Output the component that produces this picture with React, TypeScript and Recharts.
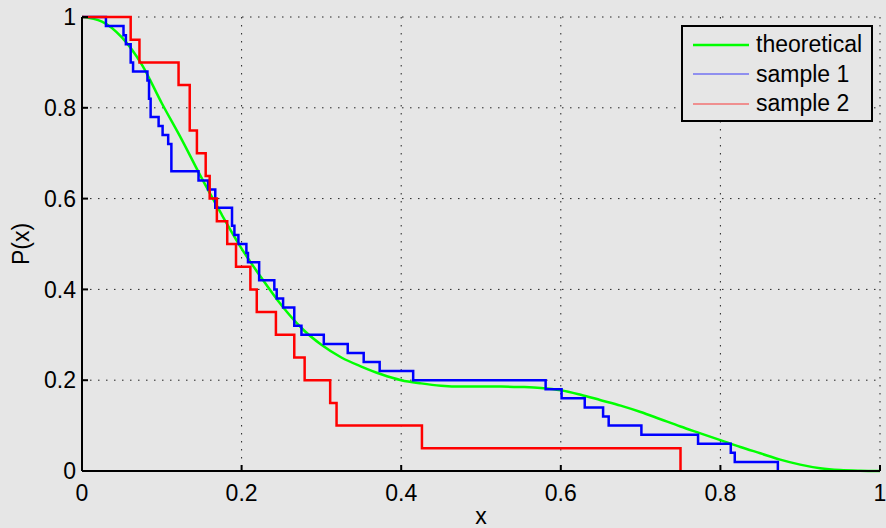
import React from 'react';
import { LineChart, Line, XAxis, YAxis, CartesianGrid, Legend } from 'recharts';

// theoretical curve
const theoreticalX = [0, 0.025, 0.05, 0.075, 0.1, 0.125, 0.15, 0.175, 0.2, 0.225, 0.25, 0.275, 0.3, 0.325, 0.35, 0.375, 0.4, 0.425, 0.45, 0.475, 0.5, 0.525, 0.55, 0.575, 0.6, 0.625, 0.65, 0.675, 0.7, 0.725, 0.75, 0.775, 0.8, 0.825, 0.85, 0.875, 0.9, 0.925, 0.95, 0.975, 1];
const theoreticalP = [1, 0.99, 0.955, 0.895, 0.81, 0.73, 0.645, 0.565, 0.49, 0.425, 0.365, 0.315, 0.278, 0.25, 0.23, 0.213, 0.2, 0.193, 0.188, 0.186, 0.186, 0.186, 0.185, 0.183, 0.178, 0.168, 0.156, 0.144, 0.13, 0.114, 0.098, 0.083, 0.068, 0.053, 0.039, 0.025, 0.014, 0.006, 0.002, 0.0005, 0];

// sample 1 (50 points, steps of 0.02)
const sample1X = [0, 0.030, 0.052, 0.055, 0.061, 0.064, 0.082, 0.084, 0.086, 0.096, 0.101, 0.108, 0.112, 0.146, 0.158, 0.167, 0.188, 0.191, 0.196, 0.206, 0.208, 0.222, 0.241, 0.244, 0.252, 0.266, 0.275, 0.303, 0.333, 0.353, 0.373, 0.415, 0.581, 0.601, 0.630, 0.653, 0.660, 0.701, 0.772, 0.813, 0.818, 0.872];
const sample1P = [1, 0.98, 0.96, 0.94, 0.90, 0.88, 0.86, 0.82, 0.78, 0.76, 0.74, 0.72, 0.66, 0.64, 0.62, 0.58, 0.54, 0.52, 0.50, 0.48, 0.46, 0.42, 0.40, 0.38, 0.36, 0.32, 0.30, 0.28, 0.26, 0.24, 0.22, 0.20, 0.18, 0.16, 0.14, 0.12, 0.10, 0.08, 0.06, 0.04, 0.02, 0];

// sample 2 (20 points, steps of 0.05)
const sample2X = [0, 0.061, 0.072, 0.121, 0.135, 0.144, 0.155, 0.160, 0.169, 0.182, 0.193, 0.211, 0.219, 0.243, 0.266, 0.279, 0.311, 0.319, 0.426, 0.750];
const sample2P = [1, 0.95, 0.90, 0.85, 0.75, 0.70, 0.65, 0.60, 0.55, 0.50, 0.45, 0.40, 0.35, 0.30, 0.25, 0.20, 0.15, 0.10, 0.05, 0];

const seriesNames = ['theoretical', 'sample 1', 'sample 2'];
const axisTicks = [0, 0.2, 0.4, 0.6, 0.8, 1];

const toPoints = (xs: number[], ps: number[]) => xs.map((x, i) => ({ x, p: ps[i] }));

const theoreticalData = toPoints(theoreticalX, theoreticalP);
const sample1Data = toPoints(sample1X, sample1P);
const sample2Data = toPoints(sample2X, sample2P);

const BG = '#e6e6e6';
const FONT = '"Liberation Sans", Arial, Helvetica, sans-serif';

const fmtTick = (v: number) => (v === 0 || v === 1 ? String(v) : v.toFixed(1));

const renderLegend = (props: any) => {
  // keep the plotting order, recharts sorts by name otherwise
  const payload = [...(props.payload || [])].sort(
    (a: any, b: any) => seriesNames.indexOf(a.value) - seriesNames.indexOf(b.value)
  );
  return (
    <div
      style={{
        width: 192,
        height: 97,
        border: '2px solid #000',
        boxSizing: 'border-box',
        background: BG,
        paddingTop: 3,
        fontFamily: FONT,
        fontSize: 23,
      }}
    >
      {payload.map((entry: any) => {
        const main = entry.value === 'theoretical';
        return (
          <div key={entry.value} style={{ display: 'flex', alignItems: 'center', height: 29.5 }}>
            <svg width={56} height={6} style={{ marginLeft: 10, marginRight: 7 }}>
              <line
                x1={0}
                y1={3}
                x2={56}
                y2={3}
                stroke={entry.color}
                strokeWidth={main ? 2.5 : 1.2}
                strokeOpacity={main ? 1 : 0.75}
              />
            </svg>
            <span style={{ color: '#000', lineHeight: '29.5px' }}>{entry.value}</span>
          </div>
        );
      })}
    </div>
  );
};

export default function App() {
  return (
    <div style={{ position: 'absolute', left: 0, top: 0, width: 886, height: 528, background: BG, fontFamily: FONT }}>
      <LineChart width={886} height={528} margin={{ top: 17, right: 6, left: 0, bottom: 0 }}>
        <CartesianGrid stroke="#222" strokeDasharray="1.5 6.5" />
        <XAxis
          dataKey="x"
          type="number"
          domain={[0, 1]}
          ticks={axisTicks}
          allowDuplicatedCategory={false}
          height={57}
          tickFormatter={fmtTick}
          tick={{ fill: '#000', fontSize: 23 }}
          tickSize={-6}
          tickMargin={20}
          axisLine={{ stroke: '#000', strokeWidth: 2 }}
          tickLine={{ stroke: '#000', strokeWidth: 2 }}
          label={{ value: 'x', position: 'insideBottom', offset: 4, fill: '#000', fontSize: 23 }}
        />
        <XAxis
          xAxisId="top"
          orientation="top"
          dataKey="x"
          type="number"
          domain={[0, 1]}
          ticks={axisTicks}
          height={0}
          tick={false}
          tickSize={-6}
          axisLine={{ stroke: '#000', strokeWidth: 2 }}
          tickLine={{ stroke: '#000', strokeWidth: 2 }}
        />
        <YAxis
          type="number"
          domain={[0, 1]}
          ticks={axisTicks}
          width={82}
          tickFormatter={fmtTick}
          tick={{ fill: '#000', fontSize: 23 }}
          tickSize={-6}
          tickMargin={12}
          axisLine={{ stroke: '#000', strokeWidth: 2 }}
          tickLine={{ stroke: '#000', strokeWidth: 2 }}
          label={{ value: 'P(x)', angle: -90, position: 'insideLeft', offset: 21, fill: '#000', fontSize: 23, style: { textAnchor: 'middle' } }}
        />
        <YAxis
          yAxisId="right"
          orientation="right"
          type="number"
          domain={[0, 1]}
          ticks={axisTicks}
          width={0}
          tick={false}
          tickSize={-6}
          axisLine={{ stroke: '#000', strokeWidth: 2 }}
          tickLine={{ stroke: '#000', strokeWidth: 2 }}
        />
        <Legend
          layout="vertical"
          align="center"
          verticalAlign="middle"
          content={renderLegend}
          wrapperStyle={{ left: 681, top: 25, width: 192, height: 97 }}
        />
        <Line
          data={theoreticalData}
          dataKey="p"
          name="theoretical"
          type="monotone"
          stroke="#00ff00"
          strokeWidth={2.5}
          dot={false}
          isAnimationActive={false}
        />
        <Line
          data={sample1Data}
          dataKey="p"
          name="sample 1"
          type="stepAfter"
          stroke="#0000ff"
          strokeWidth={2.5}
          dot={false}
          isAnimationActive={false}
        />
        <Line
          data={sample2Data}
          dataKey="p"
          name="sample 2"
          type="stepAfter"
          stroke="#ff0000"
          strokeWidth={2.5}
          dot={false}
          isAnimationActive={false}
        />
      </LineChart>
    </div>
  );
}
